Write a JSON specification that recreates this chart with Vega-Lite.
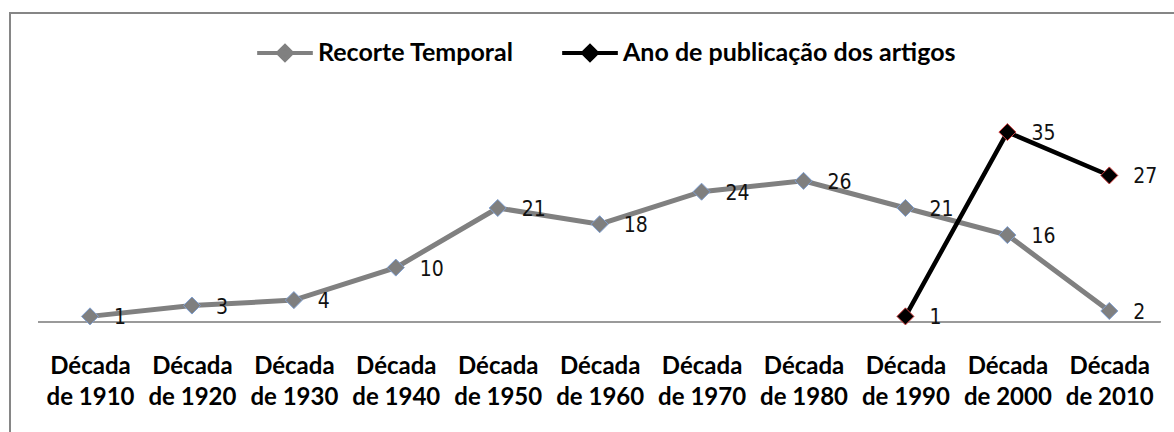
{
  "$schema": "https://vega.github.io/schema/vega-lite/v6.json",
  "autosize": {"type": "none"},
  "padding": {"left": 10, "top": 13, "right": 0, "bottom": 0},
  "width": 1166,
  "height": 421,
  "background": "white",
  "config": {
    "view": {"stroke": "#868686", "strokeWidth": 2},
    "font": "Lato"
  },
  "data": {
    "values": [
      {"decada": "Década de 1910", "serie": "Recorte Temporal", "valor": 1},
      {"decada": "Década de 1920", "serie": "Recorte Temporal", "valor": 3},
      {"decada": "Década de 1930", "serie": "Recorte Temporal", "valor": 4},
      {"decada": "Década de 1940", "serie": "Recorte Temporal", "valor": 10},
      {"decada": "Década de 1950", "serie": "Recorte Temporal", "valor": 21},
      {"decada": "Década de 1960", "serie": "Recorte Temporal", "valor": 18},
      {"decada": "Década de 1970", "serie": "Recorte Temporal", "valor": 24},
      {"decada": "Década de 1980", "serie": "Recorte Temporal", "valor": 26},
      {"decada": "Década de 1990", "serie": "Recorte Temporal", "valor": 21},
      {"decada": "Década de 2000", "serie": "Recorte Temporal", "valor": 16},
      {"decada": "Década de 2010", "serie": "Recorte Temporal", "valor": 2},
      {"decada": "Década de 1990", "serie": "Ano de publicação dos artigos", "valor": 1},
      {"decada": "Década de 2000", "serie": "Ano de publicação dos artigos", "valor": 35},
      {"decada": "Década de 2010", "serie": "Ano de publicação dos artigos", "valor": 27}
    ]
  },
  "encoding": {
    "x": {
      "field": "decada",
      "type": "ordinal",
      "sort": null,
      "scale": {
        "type": "point",
        "domain": ["Década de 1910", "Década de 1920", "Década de 1930", "Década de 1940", "Década de 1950", "Década de 1960", "Década de 1970", "Década de 1980", "Década de 1990", "Década de 2000", "Década de 2010"],
        "padding": 0.7196,
        "align": 0.5454
      },
      "axis": {
        "title": null,
        "domain": false,
        "ticks": false,
        "tickSize": 0,
        "grid": false,
        "offset": -80,
        "labelPadding": 0,
        "labelAngle": 0,
        "labelFont": "Lato",
        "labelFontWeight": "bold",
        "labelFontSize": 24,
        "labelColor": "#000000",
        "labelLineHeight": 31,
        "labelBaseline": "top",
        "labelExpr": "[substring(datum.label, 0, indexof(datum.label, ' ')), substring(datum.label, indexof(datum.label, ' ') + 1)]"
      }
    },
    "y": {
      "field": "valor",
      "type": "quantitative",
      "scale": {"domain": [-20.70, 56.97], "nice": false, "zero": false},
      "axis": null
    }
  },
  "layer": [
    {
      "mark": {"type": "rule", "color": "#9a9a9a", "strokeWidth": 1, "xOffset": -52, "x2Offset": 51},
      "encoding": {
        "x": {"datum": "Década de 1910", "type": "ordinal"},
        "x2": {"datum": "Década de 2010"},
        "y": {"datum": 0, "type": "quantitative"}
      }
    },
    {
      "transform": [{"filter": "datum.serie === 'Recorte Temporal'"}],
      "mark": {"type": "line", "strokeWidth": 5},
      "encoding": {
        "color": {
          "field": "serie",
          "type": "nominal",
          "scale": {"domain": ["Recorte Temporal", "Ano de publicação dos artigos"], "range": ["#808080", "#000000"]},
          "legend": {
            "orient": "none",
            "direction": "horizontal",
            "legendX": 245,
            "legendY": 10,
            "title": null,
            "padding": 0,
            "symbolType": "M-1,0H1M-0.25,0L0,-0.25L0.25,0L0,0.25Z",
            "symbolSize": 3100,
            "symbolStrokeWidth": 4,
            "labelFont": "Lato",
            "labelFontWeight": "bold",
            "labelFontSize": 25,
            "labelColor": "#000000",
            "labelLimit": 600,
            "labelOffset": 3,
            "columnPadding": 40,
            "encode": {
              "symbols": {
                "update": {
                  "fill": {"scale": "color", "field": "value"},
                  "stroke": {"scale": "color", "field": "value"},
                  "strokeWidth": {"value": 4}
                }
              }
            }
          }
        }
      }
    },
    {
      "transform": [{"filter": "datum.serie !== 'Recorte Temporal'"}],
      "mark": {"type": "line", "strokeWidth": 4.5},
      "encoding": {
        "color": {"field": "serie", "type": "nominal"}
      }
    },
    {
      "mark": {"type": "point", "shape": "diamond", "filled": true, "size": 290, "strokeWidth": 1, "opacity": 1},
      "encoding": {
        "fill": {
          "field": "serie",
          "type": "nominal",
          "scale": {"domain": ["Recorte Temporal", "Ano de publicação dos artigos"], "range": ["#7f7f7f", "#000000"]},
          "legend": null
        },
        "stroke": {
          "field": "serie",
          "type": "nominal",
          "scale": {"domain": ["Recorte Temporal", "Ano de publicação dos artigos"], "range": ["#7f9fd0", "#d04040"]},
          "legend": null
        }
      }
    },
    {
      "mark": {"type": "text", "align": "left", "baseline": "middle", "dx": 24, "dy": 2, "font": "DejaVu Sans Condensed, DejaVu Sans", "fontSize": 21, "color": "#111111"},
      "encoding": {
        "text": {"field": "valor", "type": "quantitative"}
      }
    }
  ]
}
